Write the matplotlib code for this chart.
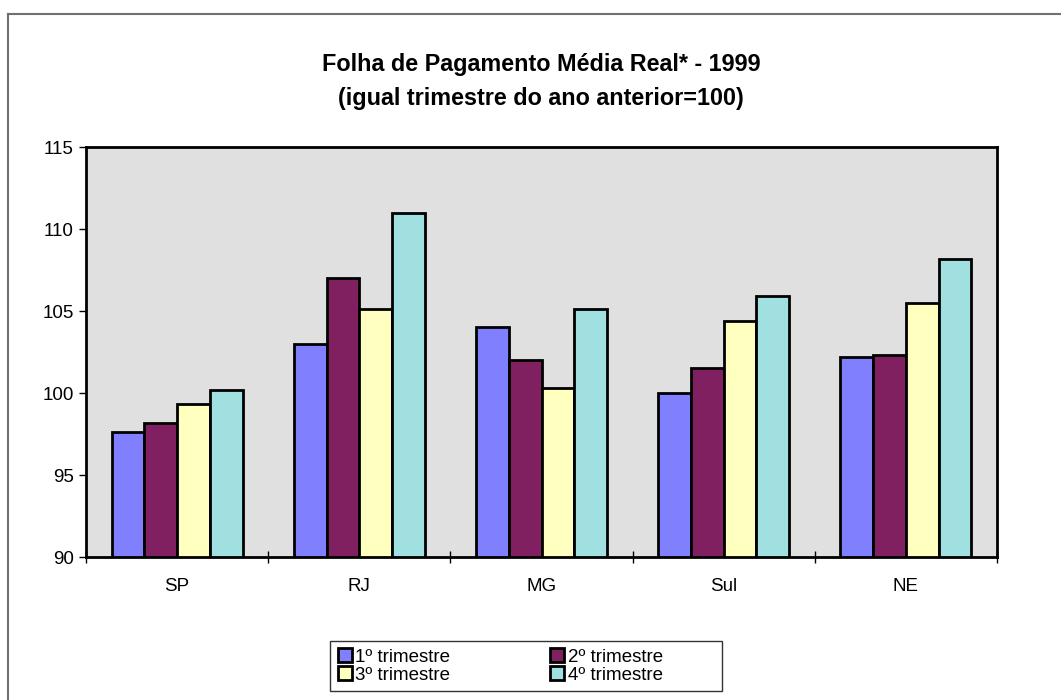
import numpy as np
import matplotlib.pyplot as plt
from matplotlib.lines import Line2D

plt.rcParams['font.family'] = ['Liberation Sans', 'DejaVu Sans']

# dados
regioes = ['SP', 'RJ', 'MG', 'Sul', 'NE']
series = ['1º trimestre', '2º trimestre', '3º trimestre', '4º trimestre']
tri1 = [97.6, 103.0, 104.0, 100.0, 102.2]
tri2 = [98.2, 107.0, 102.0, 101.5, 102.3]
tri3 = [99.3, 105.1, 100.3, 104.4, 105.5]
tri4 = [100.2, 111.0, 105.1, 105.9, 108.2]
cores = ['#8080FF', '#802060', '#FFFFC0', '#A0E0E0']

fig = plt.figure(figsize=(10.61, 7.0), dpi=100)
ax = fig.add_axes([86/1061, 1 - 557/700, (997-86)/1061, (557-147)/700])
ax.set_facecolor('#E0E0E0')

x = np.arange(len(regioes))
w = 0.18
valores = [tri1, tri2, tri3, tri4]
for i, (v, c, s) in enumerate(zip(valores, cores, series)):
    ax.bar(x + (i - 1.5) * w, np.array(v) - 90, bottom=90, width=w,
           color=c, edgecolor='black', linewidth=2.0, label=s, zorder=3)

ax.set_ylim(90, 115)
ax.set_xlim(-0.5, len(regioes) - 0.5)
ax.set_yticks(np.arange(90, 116, 5))
ax.tick_params(axis='y', labelsize=13.5, direction='out', length=5, width=1, pad=4)
ax.set_xticks(x)
ax.set_xticklabels(regioes, fontsize=13.5)
ax.tick_params(axis='x', which='major', length=0, pad=15)
ax.set_xticks(np.arange(-0.5, len(regioes), 1), minor=True)
ax.tick_params(axis='x', which='minor', direction='inout', length=8, width=1)
for sp in ax.spines.values():
    sp.set_linewidth(2)
    sp.set_color('black')

fig.text(0.51, 1 - 64/700, 'Folha de Pagamento Média Real* - 1999',
         ha='center', va='center', fontsize=16.8, fontweight='bold')
fig.text(0.51, 1 - 99/700, '(igual trimestre do ano anterior=100)',
         ha='center', va='center', fontsize=16.8, fontweight='bold')

# legenda preenchida por linha (1º, 2º / 3º, 4º)
ordem = [0, 2, 1, 3]
rotulos = [series[k] for k in ordem]
# espaço vazio à direita da segunda coluna, como no original
rotulos[2] += '\u2007' * 5
rotulos[3] += '\u2007' * 5
handles = [Line2D([], [], marker='s', linestyle='none', markersize=10,
                  markerfacecolor=cores[k], markeredgecolor='black', markeredgewidth=2)
           for k in ordem]
leg = fig.legend(handles, rotulos, loc='center', ncol=2,
                 bbox_to_anchor=(526/1061, 1 - 666/700), fontsize=13.5,
                 frameon=True, fancybox=False, edgecolor='black',
                 handlelength=0.8, handletextpad=0.15, columnspacing=5.3,
                 labelspacing=0.05, borderpad=0.4, borderaxespad=0)
leg.get_frame().set_linewidth(1)

# moldura externa
fig.add_artist(Line2D([8/1061, 8/1061], [0, 1 - 14/700], color='#707070', lw=1.5))
fig.add_artist(Line2D([8/1061, 1], [1 - 14/700, 1 - 14/700], color='#707070', lw=1.5))

fig.savefig('out.png', dpi=100)
